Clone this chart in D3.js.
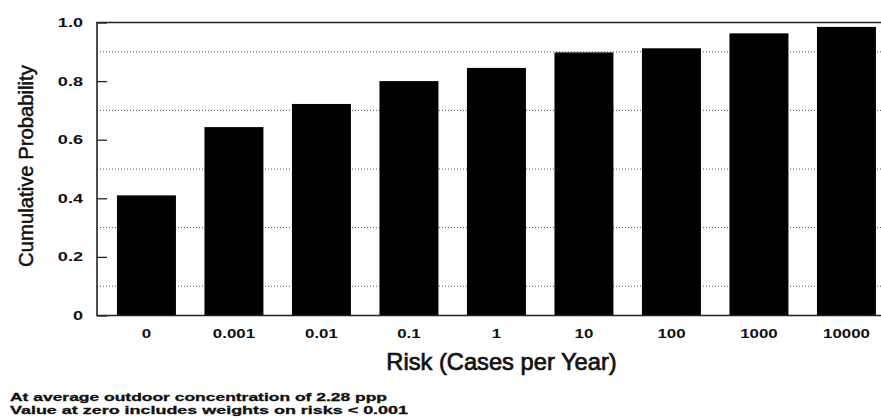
<!DOCTYPE html>
<html>
<head>
<meta charset="utf-8">
<script src="https://cdn.jsdelivr.net/npm/d3@7"></script>
<style>
  html, body { margin: 0; padding: 0; background: #fff; }
  svg { display: block; }
  text { font-family: "Liberation Sans", Arial, Helvetica, sans-serif; fill: #111; }
</style>
</head>
<body>
<svg id="chart" width="881" height="418"></svg>
<script>
const categories = ["0", "0.001", "0.01", "0.1", "1", "10", "100", "1000", "10000"];
const values = [0.41, 0.643, 0.722, 0.80, 0.845, 0.898, 0.912, 0.963, 0.985];
const yTicks = [0, 0.2, 0.4, 0.6, 0.8, 1.0];
const yTickLabels = ["0", "0.2", "0.4", "0.6", "0.8", "1.0"];
const gridValues = [0.1, 0.3, 0.5, 0.7, 0.9];
const xTitle = "Risk (Cases per Year)";
const yTitle = "Cumulative Probability";
const notes = [
  "At average outdoor concentration of 2.28 ppp",
  "Value at zero includes weights on risks < 0.001"
];

const svg = d3.select("#chart");
const W = 881, H = 418;
const plot = { left: 97, right: 881, top: 22.5, bottom: 315.5 };

svg.append("rect").attr("width", W).attr("height", H).attr("fill", "#fff");

const y = d3.scaleLinear().domain([0, 1]).range([plot.bottom, plot.top]);
const x = d3.scaleBand().domain(categories)
  .range([102.7, 890.2]).paddingInner(0.326).paddingOuter(0.163);

// dotted grid lines
svg.append("g").selectAll("line").data(gridValues).join("line")
  .attr("x1", plot.left).attr("x2", plot.right)
  .attr("y1", d => y(d)).attr("y2", d => y(d))
  .attr("stroke", "#555").attr("stroke-width", 1)
  .attr("stroke-dasharray", "1,2");

// bars
svg.append("g").selectAll("rect").data(values).join("rect")
  .attr("x", (d, i) => x(categories[i]))
  .attr("width", x.bandwidth())
  .attr("y", d => y(d))
  .attr("height", d => y(0) - y(d))
  .attr("fill", "#000");

// frame
svg.append("path")
  .attr("d", `M${plot.right},${plot.top}H${plot.left}V${plot.bottom}H${plot.right}`)
  .attr("fill", "none").attr("stroke", "#222").attr("stroke-width", 1.6);

// y axis
const ySx = 1.45;
const yAxis = svg.append("g").attr("transform", `translate(${plot.left},0)`)
  .call(d3.axisLeft(y).tickValues(yTicks)
    .tickFormat((d, i) => yTickLabels[i])
    .tickSizeInner(-10).tickSizeOuter(0));
yAxis.select(".domain").remove();
yAxis.selectAll(".tick line").attr("stroke", "#222").attr("stroke-width", 1.3);
yAxis.selectAll(".tick text")
  .attr("x", -14 / ySx)
  .attr("transform", `scale(${ySx},1)`)
  .style("font-family", "'Liberation Sans', Arial, sans-serif")
  .style("font-size", "12.5px").style("font-weight", "bold")
  .attr("fill", "#111");

// x axis
const xSx = 1.25;
const xAxis = svg.append("g").attr("transform", `translate(0,${plot.bottom})`)
  .call(d3.axisBottom(x).tickSize(0));
xAxis.select(".domain").remove();
xAxis.selectAll(".tick text")
  .attr("y", 0).attr("dy", 0)
  .attr("transform", `translate(0,22) scale(${xSx},1)`)
  .style("font-family", "'Liberation Sans', Arial, sans-serif")
  .style("font-size", "13.5px").style("font-weight", "bold")
  .attr("fill", "#111");

// axis titles
svg.append("text")
  .attr("x", 501.5).attr("y", 370)
  .attr("text-anchor", "middle")
  .style("font-size", "23.7px")
  .attr("stroke", "#111").attr("stroke-width", 0.7)
  .text(xTitle);

svg.append("text")
  .attr("transform", "translate(33,166) rotate(-90)")
  .attr("text-anchor", "middle")
  .style("font-size", "20.3px")
  .attr("stroke", "#111").attr("stroke-width", 0.5)
  .text(yTitle);

// footnotes
const noteLen = [377, 398];
svg.append("g").selectAll("text").data(notes).join("text")
  .attr("x", 10).attr("y", (d, i) => 401 + i * 12.5)
  .attr("textLength", (d, i) => noteLen[i])
  .attr("lengthAdjust", "spacingAndGlyphs")
  .style("font-size", "11px").style("font-weight", "bold")
  .attr("stroke", "#111").attr("stroke-width", 0.3)
  .text(d => d);
</script>
</body>
</html>
